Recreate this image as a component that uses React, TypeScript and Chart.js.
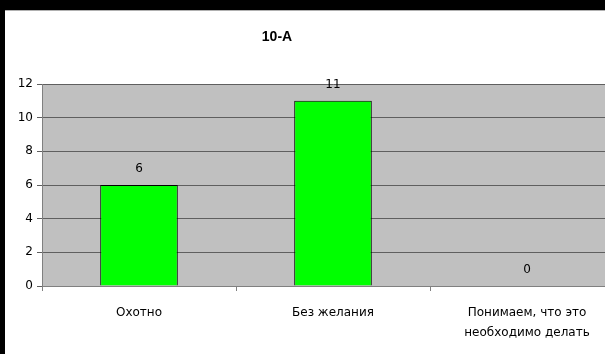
import React, { useEffect, useRef } from "react";
import { Chart, registerables } from "chart.js";
Chart.register(...registerables);

const chartTitle = "10-А";
const categories: (string | string[])[] = ["Охотно", "Без желания", ["Понимаем, что это", "необходимо делать"]];
const values = [6, 11, 0];
const yMin = 0;
const yMax = 12;
const yStep = 2;

const FONT = "'DejaVu Sans', sans-serif";

export default function App() {
  const ref = useRef<HTMLCanvasElement | null>(null);
  useEffect(() => {
    if (!ref.current) return;
    const bgPlugin = {
      id: "plotBg",
      beforeDraw(chart: any) {
        const { ctx, chartArea } = chart;
        ctx.save();
        ctx.fillStyle = "#c0c0c0";
        ctx.fillRect(chartArea.left, chartArea.top, chartArea.right - chartArea.left, chartArea.bottom - chartArea.top);
        ctx.restore();
      },
    };
    const labelPlugin = {
      id: "valLabels",
      afterDatasetsDraw(chart: any) {
        const { ctx } = chart;
        const meta = chart.getDatasetMeta(0);
        ctx.save();
        ctx.font = "12px " + FONT;
        ctx.fillStyle = "#000";
        ctx.textAlign = "center";
        ctx.textBaseline = "middle";
        meta.data.forEach((el: any, i: number) => {
          ctx.fillText(String(values[i]), el.x, el.y - 16);
        });
        ctx.restore();
      },
    };
    const titlePlugin = {
      id: "customTitle",
      afterDraw(chart: any) {
        const { ctx } = chart;
        ctx.save();
        ctx.font = "bold 14px 'Liberation Sans', Arial, sans-serif";
        ctx.fillStyle = "#000";
        ctx.textAlign = "center";
        ctx.textBaseline = "middle";
        ctx.fillText(chartTitle, 272, 26);
        ctx.restore();
      },
    };
    const chart = new Chart(ref.current, {
      type: "bar",
      data: {
        labels: categories as any,
        datasets: [
          {
            data: values,
            backgroundColor: "#00ff00",
            borderColor: "#000000",
            borderWidth: 1,
            barPercentage: 0.4,
            categoryPercentage: 1,
          },
        ],
      },
      options: {
        animation: false,
        responsive: false,
        maintainAspectRatio: false,
        layout: { padding: { top: 73, left: 0, right: 6, bottom: 0 } },
        plugins: {
          legend: { display: false },
          title: { display: false },
          tooltip: { enabled: false },
        },
        scales: {
          x: {
            grid: { drawOnChartArea: false, tickLength: 5, color: "#808080", offset: true },
            border: { color: "#808080" },
            ticks: { color: "#000", font: { family: FONT, size: 12, lineHeight: 1.65 }, padding: 12, maxRotation: 0, autoSkip: false },
            afterFit(scale: any) {
              scale.height = 68;
            },
          },
          y: {
            min: yMin,
            max: yMax,
            ticks: { stepSize: yStep, color: "#000", font: { family: FONT, size: 12 }, padding: 4 },
            grid: { color: "#5f5f5f", tickLength: 5 },
            border: { color: "#808080" },
            afterFit(scale: any) {
              scale.width = 37;
            },
          },
        },
      },
      plugins: [bgPlugin, labelPlugin, titlePlugin],
    });
    return () => chart.destroy();
  }, []);
  return (
    <div style={{ position: "fixed", left: 0, top: 0, width: 605, height: 354, background: "#000", overflow: "hidden" }}>
      <div style={{ position: "absolute", left: 5, top: 10, width: 640, height: 344, background: "#fff", borderTop: "1px solid #b0b0b0" }}>
        <canvas ref={ref} width={625} height={343} style={{ display: "block", width: 625, height: 343 }} />
      </div>
    </div>
  );
}
